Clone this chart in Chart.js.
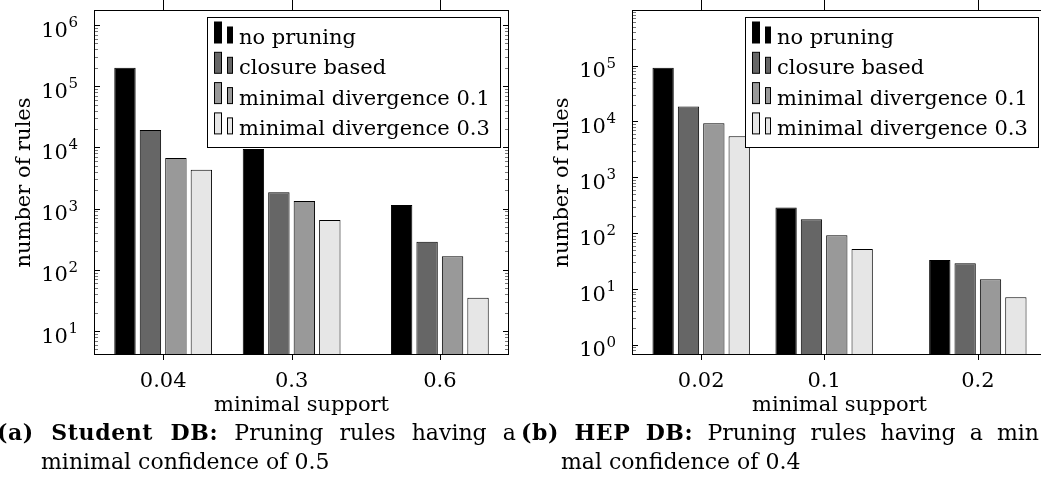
<!DOCTYPE html>
<html>
<head>
<meta charset="utf-8">
<script src="https://cdn.jsdelivr.net/npm/chart.js@4.4.1/dist/chart.umd.min.js"></script>
<style>
  html, body { margin: 0; padding: 0; overflow: hidden; background: #fff; }
  body { width: 1041px; height: 498px; position: relative; font-family: "DejaVu Serif", serif; color: #000; }
  canvas { position: absolute; top: 0; }
  #chartA { left: 0; }
  #chartB { left: 538px; }
  .cap { position: absolute; font-size: 22px; line-height: 30px; white-space: nowrap; }
  .just { text-align: justify; text-align-last: justify; white-space: normal; }
  .cap b { letter-spacing: 0.6px; }
</style>
</head>
<body>
<canvas id="chartA" width="520" height="420"></canvas>
<canvas id="chartB" width="520" height="420"></canvas>

<div class="cap just" style="left:-3px; top:417px; width:519px;"><b>(a) Student DB:</b> Pruning rules having a</div>
<div class="cap" style="left:41px; top:447px;">minimal confidence of 0.5</div>
<div class="cap just" style="left:521px; top:417px; width:518px;"><b>(b) HEP DB:</b> Pruning rules having a min</div>
<div class="cap" style="left:561px; top:447px;">mal confidence of 0.4</div>

<script>
const seriesNames = ['no pruning', 'closure based', 'minimal divergence 0.1', 'minimal divergence 0.3'];
const seriesFill = ['#000000', '#666666', '#999999', '#e6e6e6'];

// Student DB (minimal confidence 0.5)
const studentSupport = [0.04, 0.3, 0.6];
const studentNoPruning = [200000, 9400, 1150];
const studentClosure = [19200, 1850, 288];
const studentDiv01 = [6700, 1330, 166];
const studentDiv03 = [4300, 650, 35];

// HEP DB (minimal confidence 0.4)
const hepSupport = [0.02, 0.1, 0.2];
const hepNoPruning = [92000, 287, 33];
const hepClosure = [18500, 178, 29];
const hepDiv01 = [9300, 92, 15];
const hepDiv03 = [5450, 52, 7.1];

const axisFont = { family: '"DejaVu Serif", serif', size: 21 };

function isDecade(v) {
  const e = Math.round(Math.log10(v));
  return Math.abs(v - Math.pow(10, e)) < 1e-9 * v;
}

// frame, inward y ticks (major + minor), 10^n labels, outward x ticks and the boxed legend
const framePlugin = {
  id: 'frame',
  afterDatasetsDraw(chart) {
    const { ctx, chartArea: a, scales: { x, y } } = chart;
    ctx.save();
    ctx.lineWidth = 1;

    ctx.strokeStyle = '#000';
    ctx.beginPath();
    x.ticks.forEach(t => {
      const px = Math.round(x.getPixelForValue(t.value)) + 0.5;
      ctx.moveTo(px, a.top); ctx.lineTo(px, a.top - 10);
      ctx.moveTo(px, a.bottom); ctx.lineTo(px, a.bottom + 5);
    });
    y.ticks.forEach(t => {
      if (!isDecade(t.value)) return;
      const py = Math.round(y.getPixelForValue(t.value)) + 0.5;
      ctx.moveTo(a.left, py); ctx.lineTo(a.left + 6, py);
      ctx.moveTo(a.right, py); ctx.lineTo(a.right - 6, py);
    });
    ctx.stroke();

    ctx.strokeStyle = '#777';
    ctx.beginPath();
    y.ticks.forEach(t => {
      if (isDecade(t.value)) return;
      const py = Math.round(y.getPixelForValue(t.value)) + 0.5;
      ctx.moveTo(a.left, py); ctx.lineTo(a.left + 4, py);
      ctx.moveTo(a.right, py); ctx.lineTo(a.right - 4, py);
    });
    ctx.stroke();

    ctx.strokeStyle = '#000';
    ctx.strokeRect(a.left + 0.5, a.top + 0.5, a.right - a.left - 1, a.bottom - a.top - 1);

    // y labels as 10 with a raised exponent
    ctx.fillStyle = '#000';
    ctx.textAlign = 'right';
    ctx.textBaseline = 'alphabetic';
    const labelRight = a.left - 16;
    y.ticks.forEach(t => {
      if (!isDecade(t.value)) return;
      const py = y.getPixelForValue(t.value);
      const exp = String(Math.round(Math.log10(t.value)));
      ctx.font = '15px "DejaVu Serif", serif';
      const ew = ctx.measureText(exp).width;
      ctx.fillText(exp, labelRight, py + 2);
      ctx.font = '21px "DejaVu Serif", serif';
      ctx.fillText('10', labelRight - ew - 0.5, py + 11.5);
    });

    // legend box
    const bx = 207.5, by = 17.5, bw = 293, bh = 130;
    ctx.fillStyle = '#fff';
    ctx.fillRect(bx, by, bw, bh);
    ctx.strokeRect(bx, by, bw, bh);
    ctx.font = '21px "DejaVu Serif", serif';
    ctx.textAlign = 'left';
    chart.data.datasets.forEach((ds, i) => {
      const base = 43 + i * 30.3;
      ctx.fillStyle = ds.backgroundColor;
      ctx.fillRect(214.5, base - 21, 7, 21);
      ctx.strokeRect(214.5, base - 21, 7, 21);
      ctx.fillRect(227.5, base - 16, 5, 16);
      ctx.strokeRect(227.5, base - 16, 5, 16);
      ctx.fillStyle = '#000';
      ctx.fillText(ds.label, 239, base + 1);
    });
    ctx.restore();
  }
};

function makeChart(id, support, series, yMin, yMax, catPct) {
  const span = support[support.length - 1] - support[0];
  return new Chart(document.getElementById(id), {
    type: 'bar',
    data: {
      datasets: series.map((vals, i) => ({
        label: seriesNames[i],
        data: support.map((s, j) => ({ x: s, y: vals[j] })),
        backgroundColor: seriesFill[i],
        borderColor: '#000',
        borderWidth: 1,
        categoryPercentage: catPct,
        barPercentage: 0.84
      }))
    },
    options: {
      responsive: false,
      animation: false,
      devicePixelRatio: 1,
      layout: { padding: { top: 10, right: 11, left: 0, bottom: 0 } },
      plugins: { legend: { display: false }, tooltip: { enabled: false } },
      scales: {
        x: {
          type: 'linear',
          min: support[0] - 0.25 * span,
          max: support[support.length - 1] + 0.25 * span,
          offset: false,
          bounds: 'data',
          grid: { display: false, drawTicks: false },
          border: { display: false },
          afterBuildTicks: s => { s.ticks = support.map(v => ({ value: v })); },
          afterFit: s => { s.height = 65; s.paddingLeft = 0; s.paddingRight = 0; },
          ticks: { autoSkip: false, maxRotation: 0, padding: 14, color: '#000', font: axisFont,
                   callback: v => String(v) },
          title: { display: true, text: 'minimal support', color: '#000', font: axisFont,
                   padding: { top: 0, bottom: 2 } }
        },
        y: {
          type: 'logarithmic',
          min: yMin,
          max: yMax,
          bounds: 'data',
          grid: { display: false, drawTicks: false },
          border: { display: false },
          afterBuildTicks: s => {
            const ticks = [];
            for (let e = Math.floor(Math.log10(s.min)); e <= Math.ceil(Math.log10(s.max)); e++) {
              for (let k = 1; k <= 9; k++) {
                const v = k * Math.pow(10, e);
                if (v >= s.min && v <= s.max) ticks.push({ value: v, major: k === 1 });
              }
            }
            s.ticks = ticks;
          },
          afterFit: s => { s.width = 94; s.paddingTop = 0; s.paddingBottom = 0; },
          ticks: { display: false, autoSkip: false },
          title: { display: true, text: 'number of rules', color: '#000', font: axisFont,
                   padding: { top: 12, bottom: 0 } }
        }
      }
    },
    plugins: [framePlugin]
  });
}

makeChart('chartA', studentSupport,
  [studentNoPruning, studentClosure, studentDiv01, studentDiv03], 4.06, 1.76e6, 0.793);
makeChart('chartB', hepSupport,
  [hepNoPruning, hepClosure, hepDiv01, hepDiv03], 0.66, 9.9e5, 0.825);
</script>
</body>
</html>
